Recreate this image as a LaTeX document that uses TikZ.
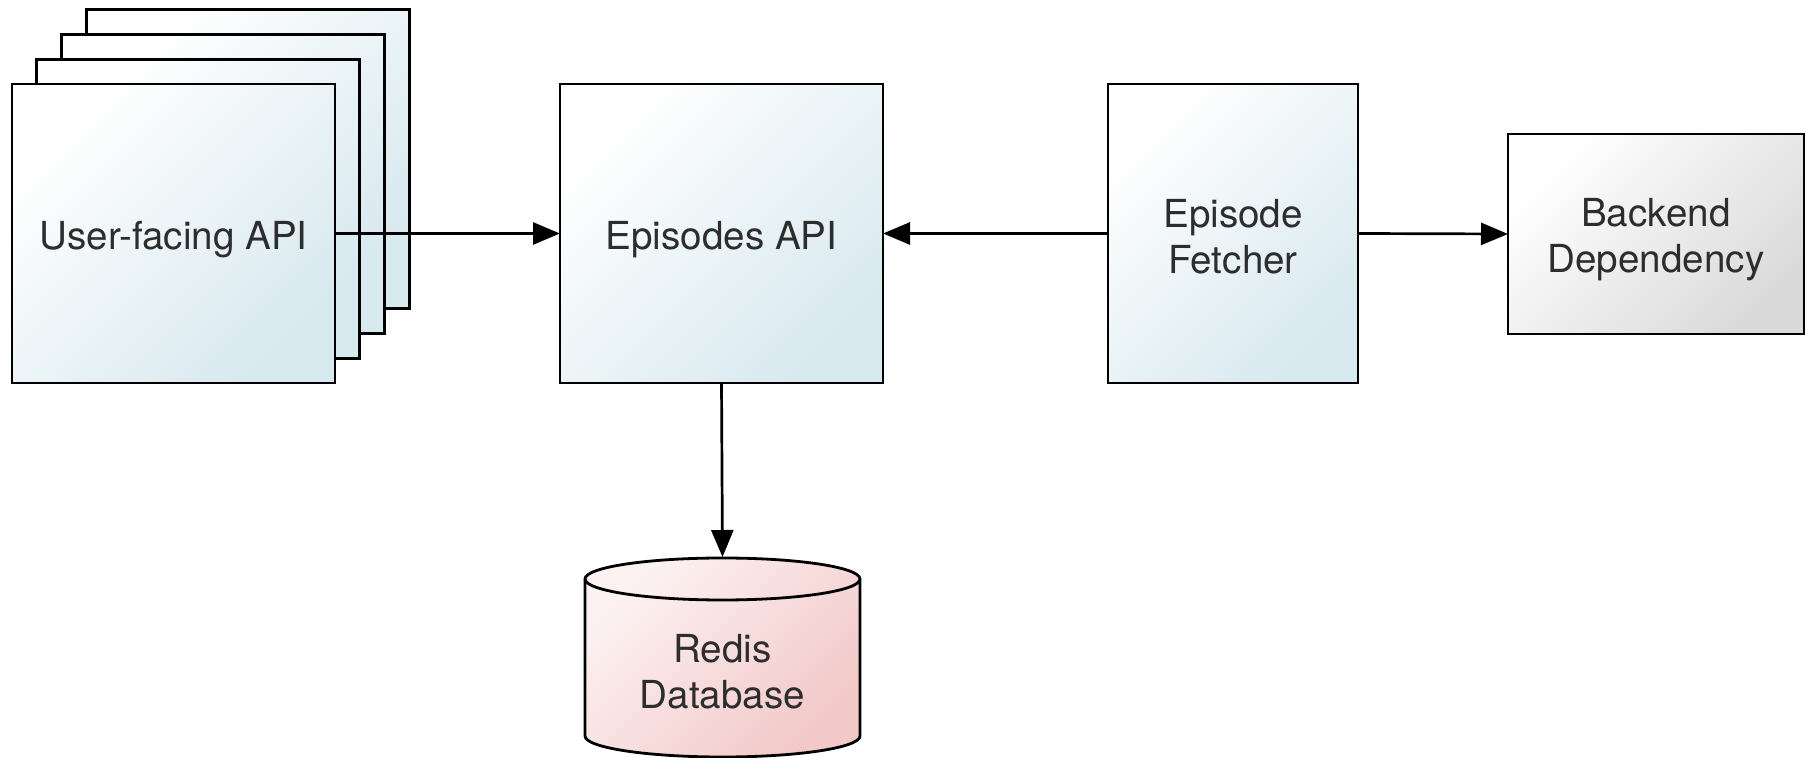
\documentclass[tikz,border=0pt]{standalone}
\usepackage{fontspec}
\setmainfont{TeX Gyre Heros}
\usetikzlibrary{arrows.meta}
\definecolor{blueend}{RGB}{216,233,239}
\definecolor{grayend}{RGB}{218,218,218}
\definecolor{pinkstart}{RGB}{253,242,242}
\definecolor{pinkend}{RGB}{242,200,200}
\definecolor{txt}{RGB}{45,45,45}
\begin{document}
\begin{tikzpicture}[x=0.5pt,y=-0.5pt,
  box/.style={draw=black,line width=1.4pt,inner sep=0pt,outer sep=0pt,
    top color=white,bottom color=blueend,shading angle=45,
    font=\fontsize{19.3}{23}\selectfont,text=txt,align=center},
  oneline/.style={text height=20pt,text depth=4pt},
  graybox/.style={box,top color=white,bottom color=grayend,shading angle=45},
  conn/.style={line width=1.35pt,-{Triangle[length=13.5pt,width=11pt]}},
  lbl/.style={font=\fontsize{19.3}{23}\selectfont,text=txt,align=center}]
\useasboundingbox (0,0) rectangle (1806,758);

% stacked user-facing API boxes
\node[box,minimum width=161.5pt,minimum height=149.5pt] (u4) at (248,159) {};
\node[box,minimum width=161.5pt,minimum height=149.5pt] (u3) at (223,184) {};
\node[box,minimum width=161.5pt,minimum height=149.5pt] (u2) at (198,209) {};
\node[box,oneline,minimum width=161.5pt,minimum height=149.5pt] (user) at (173.5,233.5) {User-facing API};

\node[box,oneline,minimum width=161.5pt,minimum height=149.5pt] (episodes) at (721.5,233.5) {Episodes API};
\node[box,minimum width=125pt,minimum height=149.5pt] (fetcher) at (1233,233.5) {\rule{0pt}{17.5pt}Episode\\Fetcher};
\node[graybox,minimum width=148pt,minimum height=100pt] (backend) at (1656,234) {\rule{0pt}{20pt}Backend\\Dependency};

% Redis cylinder
\path[top color=pinkstart,bottom color=pinkend,shading angle=45]
  (585,579) -- (585,736) arc[start angle=180,end angle=360,x radius=68.75pt,y radius=10.5pt]
  -- (860,579) arc[start angle=0,end angle=180,x radius=68.75pt,y radius=10.5pt] -- cycle;
\draw[line width=1.4pt]
  (585,579) -- (585,736) arc[start angle=180,end angle=360,x radius=68.75pt,y radius=10.5pt]
  -- (860,579) arc[start angle=0,end angle=180,x radius=68.75pt,y radius=10.5pt] -- cycle;
\draw[line width=1.4pt] (585,579) arc[start angle=180,end angle=360,x radius=68.75pt,y radius=10.5pt];
\node[lbl] (redis) at (722.5,672) {Redis\\Database};
\coordinate (redistop) at (722.5,557);

% connectors
\draw[conn] (user.east) -- (episodes.west);
\draw[conn] (fetcher.west) -- (episodes.east);
\draw[conn] (fetcher.east) -- (backend.west);
\draw[conn] (episodes.south) -- (redistop);
\end{tikzpicture}
\end{document}
